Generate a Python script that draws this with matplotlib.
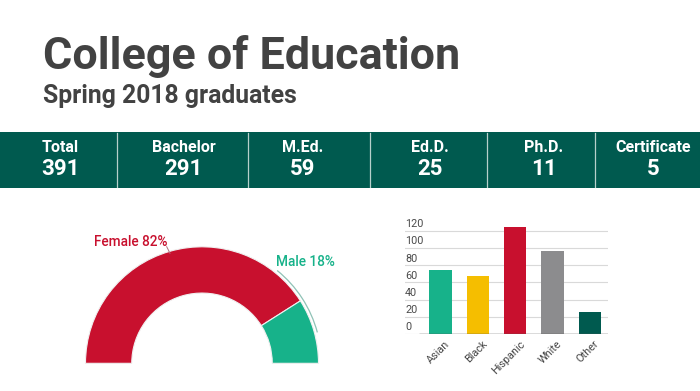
import matplotlib
matplotlib.use("Agg")
import matplotlib.pyplot as plt
from matplotlib.patches import Rectangle, Arc
from matplotlib.transforms import ScaledTranslation

# ---------------- data ----------------
title = "College of Education"
subtitle = "Spring 2018 graduates"

degree_labels = ["Total", "Bachelor", "M.Ed.", "Ed.D.", "Ph.D.", "Certificate"]
degree_counts = [391, 291, 59, 25, 11, 5]

gender_labels = ["Female", "Male"]
gender_pct = [82, 18]

eth_categories = ["Asian", "Black", "Hispanic", "White", "Other"]
eth_values = [75, 68, 125, 97, 26]
eth_yticks = [0, 20, 40, 60, 80, 100, 120]

# ---------------- styles ----------------
W, H = 700, 391
DPI = 100
TEXT = "#424242"
BAND = "#005a4f"
RED = "#c8102e"
GREEN = "#17b28a"
eth_colors = ["#17b28a", "#f5be00", "#c8102e", "#8c8c8e", "#005a4f"]
FONT = "Roboto"

plt.rcParams["font.family"] = [FONT, "DejaVu Sans"]

fig = plt.figure(figsize=(W / DPI, H / DPI), dpi=DPI)
fig.patch.set_facecolor("white")


def fx(px):
    return px / W


def fy(py):
    return 1 - py / H


# ---------------- titles ----------------
fig.text(fx(43), fy(69.5), title, fontsize=32.3, fontweight="bold", color=TEXT,
         ha="left", va="baseline")
fig.text(fx(43), fy(102.7), subtitle, fontsize=17.8, fontweight="bold", color=TEXT,
         ha="left", va="baseline")

# ---------------- header band ----------------
fig.patches.append(Rectangle((0, fy(188.3)), 1, fy(131.7) - fy(188.3),
                             transform=fig.transFigure, facecolor=BAND,
                             edgecolor="none", zorder=0))
dividers = [117.5, 248, 370, 487, 595]
for d in dividers:
    fig.add_artist(plt.Line2D([fx(d), fx(d)], [fy(187), fy(133)],
                              transform=fig.transFigure, color="#d8e6e2",
                              linewidth=0.9, alpha=0.85))
col_centers = [60, 183.5, 303, 430, 544, 653]
for cx, lab, val in zip(col_centers, degree_labels, degree_counts):
    fig.text(fx(cx), fy(151.7), lab, fontsize=11.5, fontweight="bold",
             color="white", ha="center", va="baseline")
    fig.text(fx(cx), fy(175), str(val), fontsize=16, fontweight="bold",
             color="white", ha="center", va="baseline")

# ---------------- donut (semi) ----------------
cx, cy, R = 202.0, 363.3, 116.5
xl = (-1.25, 1.25)
yl = (-0.1, 1.3)
axp = fig.add_axes([fx(cx + xl[0] * R), fy(cy - yl[0] * R),
                    (xl[1] - xl[0]) * R / W, (yl[1] - yl[0]) * R / H])
vals = gender_pct + [sum(gender_pct)]
wedges, _ = axp.pie(vals, colors=[RED, GREEN, "none"], startangle=180,
                    counterclock=False, radius=1.0,
                    wedgeprops=dict(width=0.397, edgecolor="#f0f0f0", linewidth=0.8))
wedges[2].set_edgecolor("none")
axp.set_xlim(*xl)
axp.set_ylim(*yl)
axp.set_aspect("auto")
axp.axis("off")

# labels
axp.text((167 - cx) / R, (cy - 242.5) / R, f"{gender_labels[0]} {gender_pct[0]}%",
         color=RED, fontsize=9.8, fontweight="medium", ha="right", va="center")
axp.plot([(166.7 - cx) / R, (170 - cx) / R], [(cy - 246.7) / R, (cy - 253.3) / R],
         color="#b07080", linewidth=0.7)
axp.text((276.5 - cx) / R, (cy - 262.5) / R, f"{gender_labels[1]} {gender_pct[1]}%",
         color=GREEN, fontsize=9.8, fontweight="medium", ha="left", va="center")
axp.add_patch(Arc((0, 0), 2 * 1.025, 2 * 1.025, theta1=15, theta2=51,
                  color="#8fc2b6", linewidth=0.9))

# ---------------- bar chart ----------------
y0, px_per_unit = 334.0, 0.86
ytop = 130
axb = fig.add_axes([fx(405), fy(y0), 203 / W, ytop * px_per_unit / H])
xs = list(range(len(eth_categories)))
axb.bar(xs, eth_values, width=0.6, color=eth_colors, zorder=3)
axb.set_xlim(-0.957, 4.49)
axb.set_ylim(0, ytop)
for s in axb.spines.values():
    s.set_visible(False)
axb.set_yticks(eth_yticks)
axb.set_yticklabels([str(v) for v in eth_yticks])
axb.yaxis.grid(True, color="#d9d9d9", linewidth=0.8, zorder=0)
axb.hlines(0, -0.58, 4.49, color="#555555", linewidth=1.0, zorder=4)
axb.tick_params(axis="y", length=0, pad=0, labelsize=7.8, labelcolor="#4a4a4a")
for lab in axb.get_yticklabels():
    lab.set_horizontalalignment("left")
    lab.set_verticalalignment("baseline")
    lab.set_transform(lab.get_transform() + ScaledTranslation(0, 2.6 / 72, fig.dpi_scale_trans))
axb.set_xticks(xs)
axb.set_xticklabels(eth_categories, rotation=45, ha="right", rotation_mode="anchor",
                    fontsize=7.8, color="#444444")
axb.tick_params(axis="x", length=0, pad=3.5)
for lab in axb.get_xticklabels():
    lab.set_transform(lab.get_transform() + ScaledTranslation(3 / 72, 0, fig.dpi_scale_trans))

fig.savefig("out.png", dpi=DPI)
